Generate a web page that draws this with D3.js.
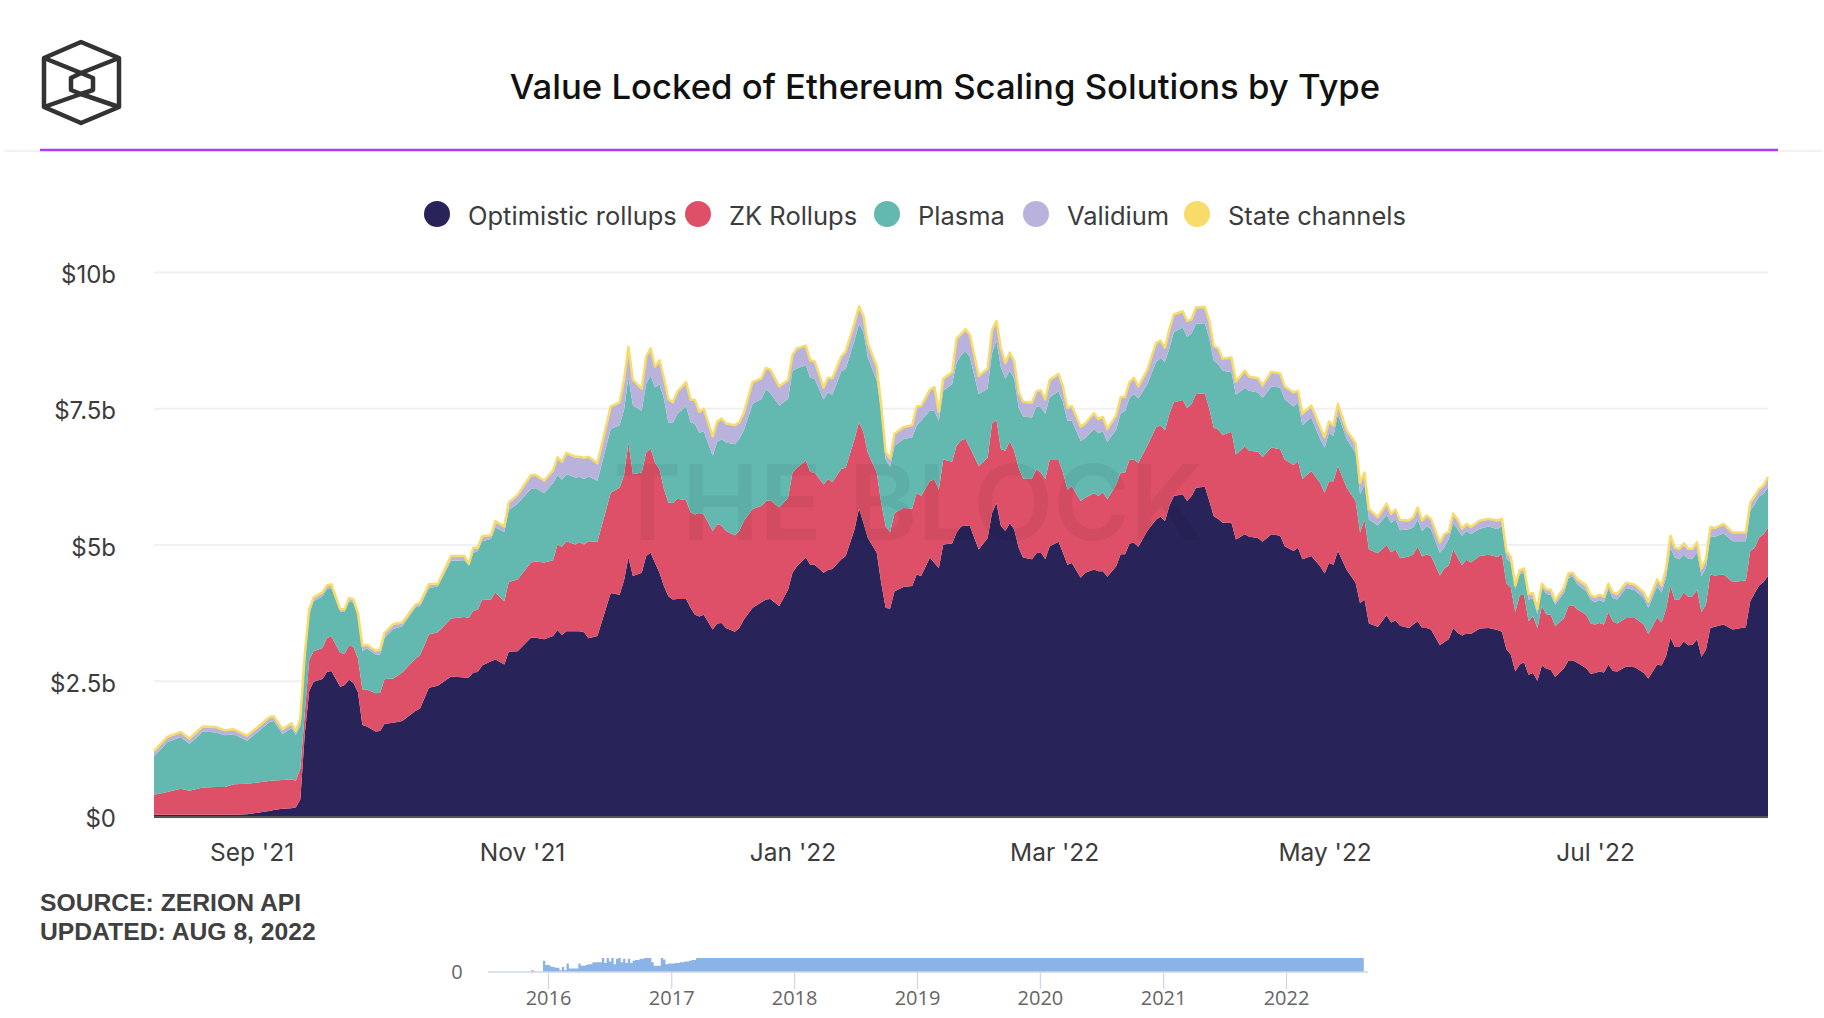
<!DOCTYPE html>
<html>
<head>
<meta charset="utf-8">
<title>Value Locked of Ethereum Scaling Solutions by Type</title>
<script src="https://cdnjs.cloudflare.com/ajax/libs/d3/7.8.5/d3.min.js"></script>
<style>
	html, body { margin: 0; padding: 0; background: #fff; }
	svg { display: block; }
	text { font-family: Inter, sans-serif; }
</style>
</head>
<body>
<svg id="chart" width="1824" height="1018"></svg>
<script>
////////// Data //////////
const startDate = new Date(2021, 7, 10);

// days after startDate, values in $b
const dayOffsets = [
	0,3,6,8,11,14,16,18,21,26,
	27,29,31,32,33,34,35,36,38,39,
	40,42,43,44,45,46,47,48,50,51,
	52,54,56,59,60,62,64,67,70,71,
	72,73,74,76,77,79,80,82,85,86,
	88,90,91,92,93,95,96,97,98,100,
	103,105,106,107,108,110,111,112,113,114,
	115,116,117,118,120,121,122,123,124,126,
	127,128,129,131,132,133,135,137,138,139,
	141,143,144,145,147,148,149,151,152,153,
	155,156,158,159,160,161,163,164,165,166,
	167,169,171,172,173,175,176,177,178,180,
	181,182,183,184,186,188,189,190,191,192,
	193,194,195,196,198,199,200,201,202,204,
	205,206,207,209,210,212,213,214,215,217,
	218,219,220,221,222,224,226,227,228,229,
	230,232,233,234,235,237,238,239,240,241,
	243,244,246,247,249,250,252,254,255,257,
	258,259,261,263,264,265,266,267,269,271,
	272,273,274,276,278,279,280,281,283,284,
	285,286,287,288,290,291,292,293,294,295,
	296,297,299,301,303,304,305,306,307,308,
	309,310,311,312,313,314,315,316,318,319,
	320,321,323,324,325,326,327,328,329,330,
	332,334,336,337,339,340,341,342,343,344,
	345,346,347,348,349,350,351,352,354,356,
	359,360,361,362,363,364
];

const optimisticRollups = [
	.04,.04,.04,.04,.04,.04,.04,.04,.05,.11,
	.13,.15,.16,.18,.32,1.52,2.31,2.48,2.53,2.66,
	2.68,2.39,2.42,2.52,2.46,2.29,1.69,1.66,1.57,1.58,
	1.71,1.73,1.76,1.95,1.99,2.37,2.41,2.58,2.56,2.56,
	2.65,2.66,2.78,2.86,2.89,2.80,3.03,3.04,3.29,3.29,
	3.26,3.32,3.43,3.34,3.41,3.41,3.41,3.39,3.28,3.32,
	4.11,4.08,4.34,4.76,4.42,4.48,4.79,4.85,4.66,4.48,
	4.24,4.05,3.99,4.00,4.00,3.84,3.71,3.68,3.71,3.44,
	3.55,3.56,3.47,3.40,3.47,3.62,3.84,3.94,3.99,4.00,
	3.87,4.17,4.48,4.60,4.76,4.63,4.63,4.48,4.53,4.55,
	4.73,4.79,5.28,5.66,5.40,5.12,4.85,4.30,3.84,3.82,
	4.14,4.22,4.24,4.45,4.42,4.76,4.66,4.57,5.00,5.02,
	5.22,5.33,5.35,5.34,4.91,5.12,5.58,5.76,5.34,5.25,
	5.39,5.28,4.94,4.76,4.73,4.84,4.86,4.73,4.97,5.05,
	4.85,4.63,4.66,4.39,4.48,4.54,4.51,4.51,4.41,4.60,
	4.82,4.82,5.02,5.03,4.96,5.25,5.46,5.51,5.43,5.71,
	5.89,5.92,5.80,5.89,6.04,6.06,5.80,5.52,5.47,5.40,
	5.40,5.09,5.19,5.14,5.12,5.05,5.19,5.16,4.97,4.88,
	4.94,4.73,4.79,4.60,4.47,4.66,4.63,4.88,4.53,4.30,
	3.92,3.99,3.55,3.49,3.70,3.57,3.61,3.51,3.47,3.53,
	3.59,3.47,3.47,3.44,3.15,3.21,3.26,3.47,3.38,3.33,
	3.37,3.36,3.46,3.47,3.43,3.40,3.08,2.98,2.67,2.80,
	2.84,2.61,2.64,2.50,2.78,2.72,2.70,2.57,2.73,2.87,
	2.87,2.83,2.73,2.63,2.64,2.67,2.65,2.80,2.68,2.67,
	2.76,2.75,2.64,2.54,2.80,2.78,2.95,3.29,3.12,3.12,
	3.22,3.15,3.16,3.26,2.94,3.07,3.47,3.49,3.53,3.44,
	3.48,3.96,4.11,4.25,4.31,4.42
];

const zkRollups = [
	.37,.42,.48,.44,.50,.51,.51,.56,.56,.55,
	.54,.53,.53,.49,.57,.38,.57,.56,.57,.63,
	.63,.62,.58,.63,.66,.62,.65,.68,.70,.70,
	.82,.81,.89,.96,.98,.98,.98,1.06,1.11,1.09,
	1.14,1.14,1.20,1.13,1.23,1.16,1.28,1.32,1.38,1.40,
	1.41,1.39,1.57,1.62,1.65,1.59,1.63,1.61,1.78,1.73,
	1.84,1.96,1.93,2.11,1.87,1.84,1.90,1.91,1.84,1.90,
	1.78,1.72,1.77,1.84,1.81,1.75,1.84,1.90,1.84,1.81,
	1.82,1.79,1.78,1.77,1.78,1.81,1.81,1.77,1.81,1.81,
	1.81,1.69,1.84,1.81,1.78,1.70,1.69,1.62,1.67,1.59,
	1.66,1.62,1.66,1.59,1.66,1.56,1.47,1.47,1.50,1.40,
	1.44,1.45,1.42,1.50,1.47,1.41,1.53,1.44,1.56,1.50,
	1.59,1.58,1.59,1.44,1.53,1.47,1.64,1.53,1.41,1.47,
	1.51,1.44,1.47,1.45,1.48,1.54,1.46,1.47,1.58,1.50,
	1.47,1.38,1.41,1.41,1.38,1.40,1.38,1.45,1.42,1.50,
	1.50,1.50,1.54,1.53,1.54,1.56,1.69,1.68,1.66,1.69,
	1.72,1.73,1.70,1.69,1.72,1.71,1.69,1.62,1.64,1.61,
	1.67,1.56,1.61,1.58,1.58,1.55,1.59,1.59,1.59,1.58,
	1.59,1.47,1.56,1.53,1.48,1.50,1.53,1.56,1.51,1.50,
	1.30,1.47,1.36,1.35,1.29,1.29,1.30,1.24,1.31,1.29,
	1.37,1.31,1.35,1.35,1.28,1.35,1.35,1.44,1.38,1.29,
	1.35,1.31,1.33,1.34,1.34,1.42,1.21,1.23,1.09,1.27,
	1.24,.98,1.05,.97,1.09,1.00,1.01,.93,.92,1.00,
	1.01,.98,.98,.92,.89,.89,.88,.96,.91,.88,
	.89,.90,.89,.82,.86,.79,.86,.95,.86,.87,
	.90,.89,.89,.91,.82,.83,.98,.94,.92,.87,
	.86,.92,.83,.88,.88,.89
];

const plasma = [
	.70,.91,.95,.86,1.03,1.00,.95,.92,.79,1.08,
	1.09,.84,.94,.84,.79,.98,.84,.92,.95,.90,
	.89,.76,.77,.81,.81,.77,.71,.75,.71,.70,
	.76,.91,.85,.94,.90,.85,.84,1.06,1.04,.96,
	1.06,1.08,1.08,1.11,1.19,1.27,1.32,1.39,1.35,1.34,
	1.27,1.42,1.27,1.23,1.23,1.23,1.20,1.20,1.19,1.12,
	1.17,1.15,1.20,1.20,1.26,1.13,1.26,1.34,1.38,1.56,
	1.66,1.47,1.47,1.55,1.73,1.66,1.66,1.47,1.53,1.38,
	1.51,1.58,1.62,1.67,1.69,1.66,1.93,1.96,2.05,1.97,
	1.87,1.81,1.87,1.82,1.75,1.73,1.72,1.56,1.59,1.61,
	1.79,1.81,1.81,1.80,1.84,1.75,1.69,1.66,1.23,1.20,
	1.23,1.26,1.31,1.23,1.38,1.29,1.26,1.26,1.26,1.42,
	1.53,1.56,1.61,1.66,1.32,1.27,1.30,1.45,1.50,1.32,
	1.29,1.32,1.10,1.14,1.12,1.15,1.20,1.20,1.15,1.26,
	1.29,1.26,1.20,1.10,1.09,1.18,1.15,1.12,1.05,1.01,
	1.09,1.13,1.13,1.20,1.18,1.13,1.20,1.23,1.26,1.20,
	1.29,1.33,1.31,1.29,1.29,1.29,1.29,1.23,1.20,1.18,
	1.09,1.10,1.07,1.10,1.09,1.09,1.12,1.13,1.10,1.07,
	1.07,.99,.98,.80,.83,.89,.83,.95,.89,.88,
	.70,.64,.55,.51,.55,.54,.55,.51,.50,.49,
	.50,.47,.52,.49,.42,.39,.49,.48,.52,.54,
	.53,.52,.50,.52,.51,.52,.46,.46,.42,.39,
	.40,.40,.32,.25,.34,.37,.37,.40,.46,.52,
	.53,.46,.43,.44,.41,.42,.41,.43,.43,.44,
	.55,.51,.49,.48,.57,.55,.58,.69,.78,.74,
	.69,.70,.69,.69,.66,.67,.69,.71,.75,.75,
	.72,.74,.80,.75,.74,.74
];

const validium = [
	.09,.09,.08,.09,.08,.09,.08,.08,.08,.08,
	.08,.08,.08,.06,.11,.09,.08,.06,.06,.05,
	.06,.03,.03,.05,.05,.05,.08,.06,.06,.08,
	.08,.08,.06,.04,.05,.06,.04,.08,.07,.03,
	.08,.05,.08,.06,.11,.09,.13,.15,.24,.24,
	.22,.22,.32,.32,.38,.37,.36,.38,.35,.31,
	.40,.41,.54,.55,.46,.40,.49,.49,.37,.43,
	.37,.42,.37,.40,.43,.40,.43,.37,.40,.34,
	.36,.37,.34,.34,.29,.31,.39,.37,.38,.42,
	.34,.34,.28,.36,.35,.31,.31,.21,.26,.29,
	.26,.31,.31,.31,.28,.25,.25,.12,.12,.15,
	.21,.21,.21,.34,.26,.37,.43,.15,.21,.21,
	.43,.38,.39,.40,.32,.36,.40,.35,.34,.28,
	.32,.31,.28,.26,.26,.27,.30,.25,.31,.31,
	.28,.23,.26,.25,.26,.28,.25,.25,.23,.25,
	.28,.25,.28,.29,.21,.25,.34,.31,.25,.34,
	.31,.29,.28,.25,.29,.29,.31,.26,.28,.21,
	.26,.23,.31,.25,.25,.22,.26,.25,.23,.25,
	.21,.20,.21,.21,.18,.20,.18,.18,.15,.17,
	.20,.21,.18,.14,.20,.15,.17,.18,.15,.18,
	.21,.18,.18,.18,.18,.23,.12,.17,.17,.12,
	.12,.12,.14,.13,.15,.12,.12,.09,.06,.06,
	.07,.09,.09,.09,.06,.08,.08,.06,.09,.07,
	.06,.08,.10,.07,.09,.09,.09,.08,.09,.09,
	.09,.09,.09,.10,.12,.12,.15,.22,.17,.18,
	.20,.17,.17,.17,.13,.15,.17,.15,.17,.15,
	.15,.14,.14,.13,.14,.18
];

const stateChannels = [
	.01,.01,.01,.01,.01,.01,.01,.01,.01,.01,
	.01,.01,.01,.01,.01,.01,.01,.01,.01,.01,
	.01,.01,.01,.01,.01,.01,.01,.01,.01,.01,
	.01,.01,.01,.01,.01,.01,.01,.01,.01,.01,
	.01,.01,.01,.01,.01,.01,.01,.01,.01,.01,
	.01,.01,.01,.01,.01,.01,.01,.01,.01,.01,
	.01,.01,.01,.01,.01,.01,.01,.01,.01,.01,
	.01,.01,.01,.01,.01,.01,.01,.01,.01,.01,
	.01,.01,.01,.01,.01,.01,.01,.01,.01,.01,
	.01,.01,.01,.01,.01,.01,.01,.01,.01,.01,
	.01,.01,.01,.01,.01,.01,.01,.01,.01,.01,
	.01,.01,.01,.01,.01,.01,.01,.01,.01,.01,
	.01,.01,.01,.01,.01,.01,.01,.01,.01,.01,
	.01,.01,.01,.01,.01,.01,.01,.01,.01,.01,
	.01,.01,.01,.01,.01,.01,.01,.01,.01,.01,
	.01,.01,.01,.01,.01,.01,.01,.01,.01,.01,
	.01,.01,.01,.01,.01,.01,.01,.01,.01,.01,
	.01,.01,.01,.01,.01,.01,.01,.01,.01,.01,
	.01,.01,.01,.01,.01,.01,.01,.01,.01,.01,
	.01,.01,.01,.01,.01,.01,.01,.01,.01,.01,
	.01,.01,.01,.01,.01,.01,.01,.01,.01,.01,
	.01,.01,.01,.01,.01,.01,.01,.01,.01,.01,
	.01,.01,.01,.01,.01,.01,.01,.01,.01,.01,
	.01,.01,.01,.01,.01,.01,.01,.01,.01,.01,
	.01,.01,.01,.01,.01,.01,.01,.01,.01,.01,
	.01,.01,.01,.01,.01,.01,.01,.01,.01,.01,
	.01,.01,.01,.01,.01,.01
];

const seriesNames = ['Optimistic rollups', 'ZK Rollups', 'Plasma', 'Validium', 'State channels'];
const seriesColors = ['#282359', '#dd5067', '#63b8b0', '#b8b2dc', '#f7dc6a'];

const yTicks = [0, 2.5, 5, 7.5, 10];
const yTickLabels = ['$0', '$2.5b', '$5b', '$7.5b', '$10b'];
const xTicks = [new Date(2021, 8, 1), new Date(2021, 10, 1), new Date(2022, 0, 1), new Date(2022, 2, 1), new Date(2022, 4, 1), new Date(2022, 6, 1)];

// navigator: share of its height, a stray bar, one bar per week from navStart, then flat until navEnd
const navStrayStart = new Date(2015, 10, 12);
const navStrayEnd = new Date(2015, 10, 20);
const navStrayValue = .12;
const navStart = new Date(2015, 11, 17);
const navFullStart = new Date(2017, 2, 16);
const navEnd = new Date(2022, 7, 20);
const navWeekly = [
	.8,.5,.5,.4,.35,.3,.3,.12,.35,.12,
	.6,.25,.25,.25,.25,.6,.45,.45,.5,.55,
	.55,.7,.7,.7,.7,1,.65,1,.75,1,
	.55,.95,1,.7,.95,.65,.95,.65,.8,.85,
	.85,.95,.95,1,1,1,.7,.45,.45,.45,
	1,.9,.55,.6,.6,.6,.65,.65,.7,.7,
	.75,.75,.8,.85,.85
];
const navYears = [2016, 2017, 2018, 2019, 2020, 2021, 2022];

////////// Layout //////////
const plot = { left: 154, right: 1768, top: 272, bottom: 817 };
const nav = { left: 488, right: 1368, top: 958, bottom: 972 };
const legendX = [437, 698, 887, 1036, 1197];

const svg = d3.select('#chart');

const x = d3.scaleTime()
	.domain([startDate, d3.timeDay.offset(startDate, 364)])
	.range([plot.left, plot.right]);
const y = d3.scaleLinear()
	.domain([0, 10])
	.range([plot.bottom, plot.top]);
// 2016 falls on 548 and 2022 on 1286 in the navigator
const navX = d3.scaleTime()
	.domain([new Date(2016, 0, 1), new Date(2022, 0, 1)])
	.range([548, 1286]);
const navY = d3.scaleLinear()
	.domain([0, 1])
	.range([nav.bottom, nav.top]);

////////// Header //////////
const logo = svg.append('g')
	.attr('fill', 'none')
	.attr('stroke', '#333')
	.attr('stroke-width', 4.5)
	.attr('stroke-linejoin', 'round');
[
	'M81,42 L119,58 L119,107 L81,123 L44,107 L44,58 Z',
	'M81,73 L93,78 L93,90 L81,94 L71,90 L71,78 Z',
	'M44,58 L81,73 L119,58',
	'M44,107 L81,94 L119,107'
].forEach(d => logo.append('path').attr('d', d));

svg.append('text')
	.attr('x', 949)
	.attr('y', 99)
	.attr('text-anchor', 'middle')
	.attr('font-size', 34.7)
	.attr('font-weight', 500)
	.attr('fill', '#111')
	.attr('dx', -4)
	.text('Value Locked of Ethereum Scaling Solutions by Type');

svg.append('path')
	.attr('d', 'M4,151H40M1778,151H1822')
	.attr('stroke', '#f1eafa').attr('stroke-width', 1.5);
svg.append('line').attr('x1', 40).attr('x2', 1778).attr('y1', 150).attr('y2', 150)
	.attr('stroke', '#a63ff0').attr('stroke-width', 2.5);

////////// Legend //////////
const legend = svg.append('g').selectAll('g')
	.data(seriesNames)
	.join('g')
	.attr('transform', (d, i) => `translate(${legendX[i]},214)`);
legend.append('circle')
	.attr('r', 13)
	.attr('fill', (d, i) => seriesColors[i]);
legend.append('text')
	.attr('x', 31)
	.attr('y', 11)
	.attr('font-size', 25.5)
	.attr('fill', '#3c3c3c')
	.text(d => d);

////////// Axes //////////
const yAxis = svg.append('g')
	.attr('transform', `translate(${plot.left},0)`)
	.call(d3.axisLeft(y)
		.tickValues(yTicks)
		.tickFormat((d, i) => yTickLabels[i])
		.tickSize(-(plot.right - plot.left))
		.tickPadding(38));
yAxis.select('.domain').remove();
yAxis.selectAll('line').attr('stroke', '#f0f0f0').attr('stroke-width', 2);
yAxis.selectAll('text')
	.attr('font-size', 24)
	.attr('fill', '#3c3c3c')
	.attr('dy', d => d === 0 ? 9 : 10.5);

////////// Stacked areas //////////
const rows = dayOffsets.map((day, i) => ({
	date: d3.timeDay.offset(startDate, day),
	s0: optimisticRollups[i],
	s1: zkRollups[i],
	s2: plasma[i],
	s3: validium[i],
	s4: stateChannels[i]
}));
const stacked = d3.stack().keys(['s0', 's1', 's2', 's3', 's4'])(rows);

const area = d3.area()
	.x(d => x(d.data.date))
	.y0(d => y(d[0]))
	.y1(d => y(d[1]));

svg.append('g').selectAll('path')
	.data(stacked)
	.join('path')
	.attr('d', area)
	.attr('fill', (d, i) => seriesColors[i]);

svg.append('path')
	.datum(stacked[4])
	.attr('d', d3.line().x(d => x(d.data.date)).y(d => y(d[1])))
	.attr('fill', 'none')
	.attr('stroke', seriesColors[4])
	.attr('stroke-width', 2.5)
	.attr('stroke-linejoin', 'round');

svg.append('line')
	.attr('x1', plot.left).attr('x2', plot.right)
	.attr('y1', plot.bottom).attr('y2', plot.bottom)
	.attr('stroke', '#555').attr('stroke-width', 2);

const xAxis = svg.append('g')
	.attr('transform', `translate(0,${plot.bottom})`)
	.call(d3.axisBottom(x)
		.tickValues(xTicks)
		.tickFormat(d3.timeFormat("%b '%y"))
		.tickSize(0)
		.tickPadding(27));
xAxis.select('.domain').remove();
xAxis.selectAll('text')
	.attr('font-size', 24.5)
	.attr('fill', '#3c3c3c');

// watermark sits on top of the areas
svg.append('text')
	.attr('x', 613)
	.attr('y', 540)
	.attr('font-size', 104)
	.attr('font-weight', 600)
	.attr('textLength', 590)
	.attr('fill', '#000')
	.attr('fill-opacity', 0.05)
	.text('THE BLOCK');

////////// Source note //////////
svg.selectAll('.note')
	.data(['SOURCE: ZERION API', 'UPDATED: AUG 8, 2022'])
	.join('text')
	.attr('class', 'note')
	.attr('x', 40)
	.attr('y', (d, i) => 911 + i * 29)
	.attr('font-size', 24.7)
	.attr('font-weight', 700)
	.attr('fill', '#404040')
	.style('font-family', "'Liberation Sans', sans-serif")
	.text(d => d);

////////// Navigator //////////
const navRows = [{ date: navStrayStart, v: navStrayValue }, { date: navStrayEnd, v: 0 }]
	.concat(navWeekly.map((v, i) => ({ date: d3.timeDay.offset(navStart, i * 7), v })))
	.concat([{ date: navFullStart, v: 1 }, { date: navEnd, v: 1 }]);

svg.append('path')
	.datum(navRows)
	.attr('d', d3.area()
		.curve(d3.curveStepAfter)
		.x(d => navX(d.date))
		.y0(nav.bottom)
		.y1(d => navY(d.v)))
	.attr('fill', '#8ab4e8');

const navAxis = svg.append('g')
	.attr('transform', `translate(0,${nav.bottom})`)
	.call(d3.axisBottom(navX)
		.tickValues(navYears.map(yr => new Date(yr, 0, 1)))
		.tickFormat(d3.timeFormat('%Y'))
		.tickSize(17)
		.tickPadding(2)
		.tickSizeOuter(0));
navAxis.select('.domain')
	.attr('d', `M${nav.left},0H${nav.right}`)
	.attr('stroke', '#ccd6eb')
	.attr('stroke-width', 1.5);
navAxis.selectAll('line').attr('stroke', '#ccd6eb').attr('stroke-width', 1.2);
navAxis.selectAll('text')
	.attr('font-size', 20)
	.attr('fill', '#666')
	.style('font-family', "'Open Sans', sans-serif");

svg.append('text')
	.attr('x', 457)
	.attr('y', 979)
	.attr('text-anchor', 'middle')
	.attr('font-size', 20)
	.attr('fill', '#666')
	.style('font-family', "'Open Sans', sans-serif")
	.text('0');
</script>
</body>
</html>
